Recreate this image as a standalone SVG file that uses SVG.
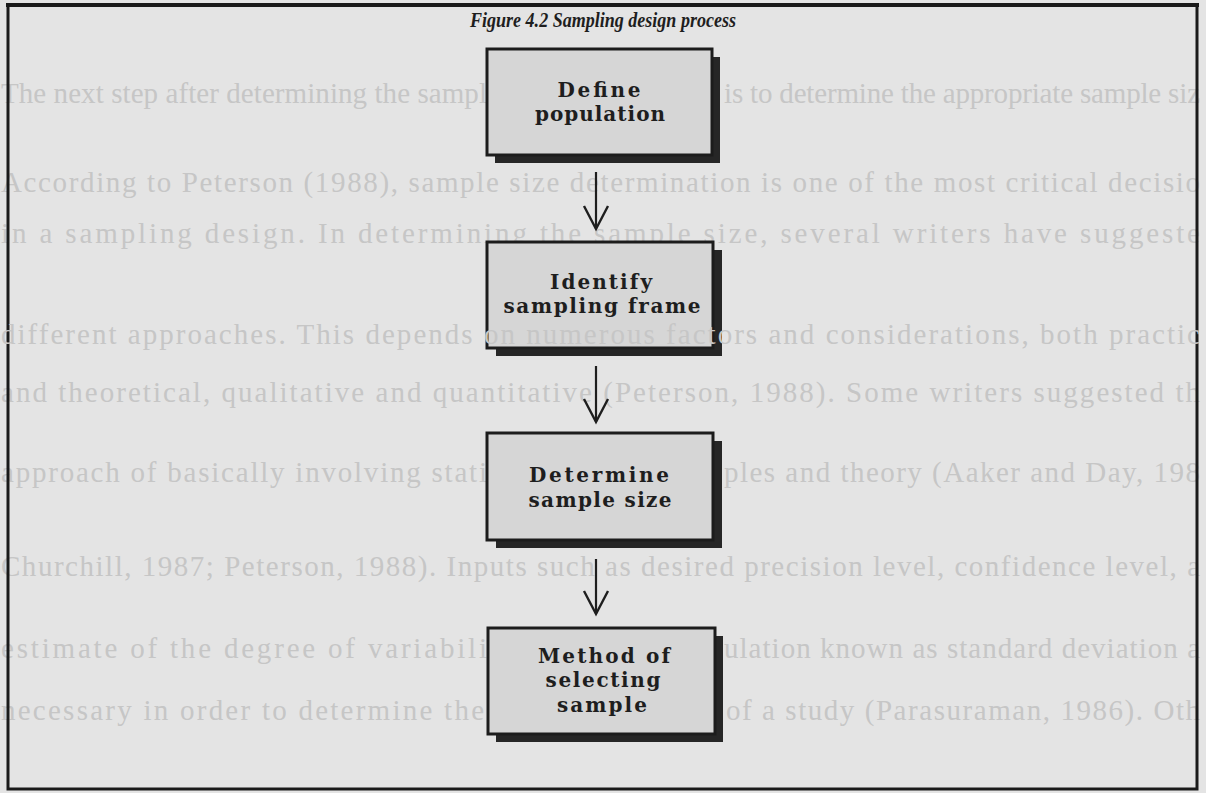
<svg xmlns="http://www.w3.org/2000/svg" width="1206" height="793" viewBox="0 0 1206 793">
<style>
.bg{font-family:"Liberation Serif","Times New Roman",serif;font-size:29px;fill:#c6c6c6}
.lbl{font-family:"DejaVu Serif","Liberation Serif",serif;font-size:20px;font-weight:bold;fill:#1e1e1e;text-anchor:middle}
.box{fill:#d6d6d6;stroke:#1c1c1c;stroke-width:3}
.shadow{fill:#262626}
.conn{stroke:#1e1e1e;stroke-width:2.2;fill:none}
</style>
<defs>
<marker id="vhead" viewBox="-2 -14 28 28" refX="23" refY="0" markerWidth="28" markerHeight="28" markerUnits="userSpaceOnUse" orient="auto">
<path d="M0,-12 L23,0 L0,12" fill="none" stroke="#1e1e1e" stroke-width="2.4"/>
</marker>
</defs>
<rect x="0" y="0" width="1206" height="793" fill="#e4e4e4"/>
<g id="background-text">
<text class="bg" x="1" y="103" textLength="486" lengthAdjust="spacing">The next step after determining the sampl</text>
<text class="bg" x="724" y="103" textLength="476" lengthAdjust="spacing">is to determine the appropriate sample siz</text>
<text class="bg" x="1" y="192" textLength="1199" lengthAdjust="spacing">According to Peterson (1988), sample size determination is one of the most critical decisio</text>
<text class="bg" x="1" y="243" textLength="1199" lengthAdjust="spacing">in a sampling design.  In determining the sample size, several writers have suggeste</text>
<text class="bg" x="1" y="402" textLength="1199" lengthAdjust="spacing">and theoretical, qualitative and quantitative (Peterson, 1988).  Some writers suggested th</text>
<text class="bg" x="1" y="482" textLength="486" lengthAdjust="spacing">approach of basically involving stati</text>
<text class="bg" x="724" y="482" textLength="476" lengthAdjust="spacing">ples and theory (Aaker and Day, 198</text>
<text class="bg" x="1" y="576" textLength="1199" lengthAdjust="spacing">Churchill, 1987; Peterson, 1988).  Inputs such as desired precision level, confidence level, a</text>
<text class="bg" x="1" y="658" textLength="486" lengthAdjust="spacing">estimate of the degree of variabili</text>
<text class="bg" x="724" y="658" textLength="476" lengthAdjust="spacing">ulation known as standard deviation a</text>
<text class="bg" x="1" y="720" textLength="483" lengthAdjust="spacing">necessary in order to determine the</text>
<text class="bg" x="726" y="720" textLength="474" lengthAdjust="spacing">of a study (Parasuraman, 1986).  Oth</text>
</g>
<g id="frame">
<rect x="8" y="5" width="1189" height="784" fill="none" stroke="#1a1a1a" stroke-width="3"/>
<line x1="6" y1="5" x2="1199" y2="5" stroke="#1a1a1a" stroke-width="4"/>
</g>
<g id="title">
<text x="603" y="27" font-family="'Liberation Serif','Times New Roman',serif" font-size="21" font-style="italic" font-weight="bold" fill="#1e1e1e" text-anchor="middle" textLength="266" lengthAdjust="spacingAndGlyphs">Figure 4.2 Sampling design process</text>
</g>
<g id="connectors">
<line class="conn" x1="596" y1="172" x2="596" y2="229" marker-end="url(#vhead)"/>
<line class="conn" x1="596" y1="366" x2="596" y2="422" marker-end="url(#vhead)"/>
<line class="conn" x1="596" y1="559" x2="596" y2="614" marker-end="url(#vhead)"/>
</g>
<g id="node-define-population">
<rect class="shadow" x="495" y="57" width="225" height="106"/>
<rect class="box" x="487" y="49" width="225" height="106"/>
<text class="lbl" x="599" y="97" textLength="83" lengthAdjust="spacing">Define</text>
<text class="lbl" x="600" y="121" textLength="130" lengthAdjust="spacing">population</text>
</g>
<g id="node-identify-sampling-frame">
<rect class="shadow" x="496" y="250" width="226" height="106"/>
<rect class="box" x="487" y="242" width="226" height="106"/>
<text class="lbl" x="601" y="289" textLength="102" lengthAdjust="spacing">Identify</text>
<text class="lbl" x="602" y="313" textLength="197" lengthAdjust="spacing">sampling frame</text>
</g>
<g id="background-text-over">
<text class="bg" x="1" y="344" textLength="1199" lengthAdjust="spacing">different approaches.  This depends on numerous factors and considerations, both practic</text>
</g>
<g id="node-determine-sample-size">
<rect class="shadow" x="496" y="441" width="226" height="107"/>
<rect class="box" x="487" y="433" width="226" height="107"/>
<text class="lbl" x="599" y="482" textLength="140" lengthAdjust="spacing">Determine</text>
<text class="lbl" x="600" y="507" textLength="143" lengthAdjust="spacing">sample size</text>
</g>
<g id="node-method-of-selecting-sample">
<rect class="shadow" x="496" y="636" width="227" height="106"/>
<rect class="box" x="488" y="628" width="227" height="106"/>
<text class="lbl" x="604" y="663" textLength="132" lengthAdjust="spacing">Method of</text>
<text class="lbl" x="603" y="687" textLength="115" lengthAdjust="spacing">selecting</text>
<text class="lbl" x="602" y="712" textLength="90" lengthAdjust="spacing">sample</text>
</g>
</svg>
